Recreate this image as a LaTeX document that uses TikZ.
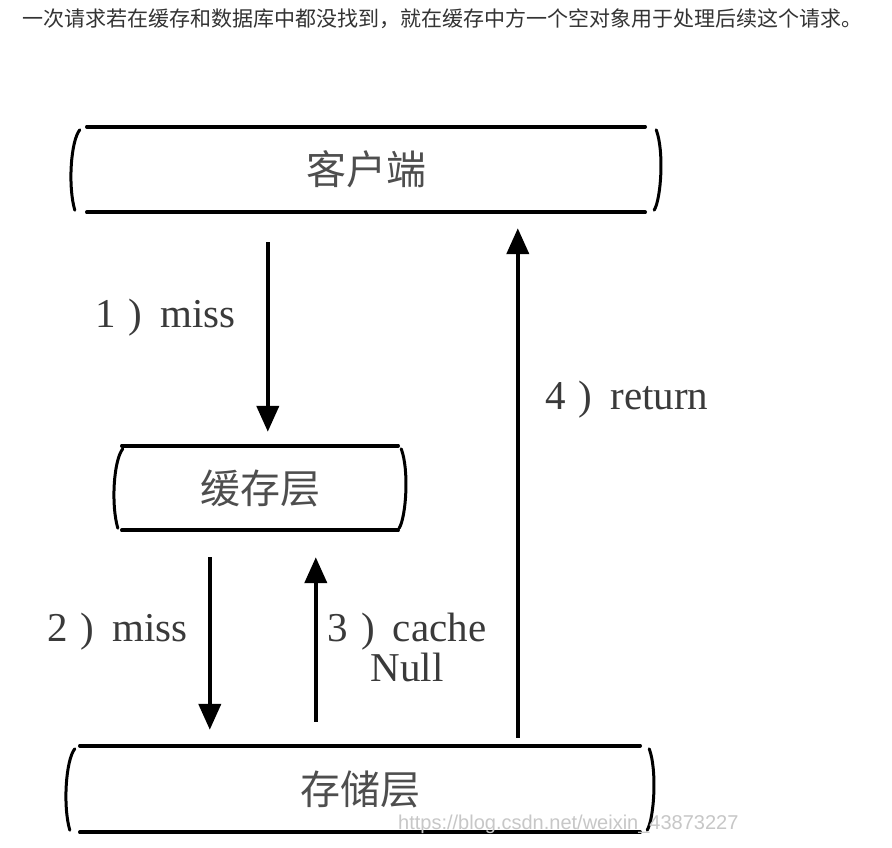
\documentclass[tikz,border=0pt]{standalone}
\usepackage{fontspec}
\setmainfont{Liberation Serif}
\newfontfamily\cjk{Noto Sans CJK SC}
\newfontfamily\wmfont{Liberation Sans}
\usepackage{xcolor}
\usetikzlibrary{arrows.meta,positioning,calc}
\definecolor{inkgray}{HTML}{3A3A3A}
\definecolor{softgray}{HTML}{4E4E4E}
\definecolor{captgray}{HTML}{333333}
% box with two rules and two bent side strokes
\newcommand{\layerbox}[2]{%
  \draw[rule] (#1.north west) -- (#1.north east);
  \draw[rule] (#1.south west) -- (#1.south east);
  \draw[side] ($(#1.north west)+(-#2+8,3)$) .. controls ($(#1.north west)+(-#2-1,14)$) and ($(#1.south west)+(-#2-4,-26)$) .. ($(#1.south west)+(-#2+3,-2)$);
  \draw[side] ($(#1.north east)+(#2-4,3)$) .. controls ($(#1.north east)+(#2+4,24)$) and ($(#1.south east)+(#2+1,-14)$) .. ($(#1.south east)+(#2-6,-2)$);
}
\tikzset{
  layer/.style={inner sep=0pt, font=\cjk\fontsize{40}{44}\selectfont, text=softgray},
  rule/.style={line width=3.6pt, line cap=round},
  side/.style={line width=3pt, line cap=round},
  flow/.style={line width=4.2pt, -{Triangle[length=26pt,width=22pt]}},
  steplbl/.style={inner sep=0pt, font=\fontsize{41}{40}\selectfont, text=inkgray},
}

\begin{document}
\begin{tikzpicture}[x=1pt, y=-1pt]
\fill[white] (0,0) rectangle (892,848);
\useasboundingbox (0,0) rectangle (892,848);
\node[anchor=west, inner sep=0pt, text=captgray, font=\cjk\fontsize{21}{24}\selectfont] (caption) at (22,19) {一次请求若在缓存和数据库中都没找到，就在缓存中方一个空对象用于处理后续这个请求。};

\node[layer, minimum width=558pt, minimum height=85pt] (client) at (366,169.5) {客户端};
\node[layer, minimum width=276pt, minimum height=84pt] (cache) at (260,488) {缓存层};
\node[layer, minimum width=560pt, minimum height=86pt] (store) at (360,789) {存储层};
\layerbox{client}{15}
\layerbox{cache}{7}
\layerbox{store}{13}

\draw[flow] ($(client.south west)+(181,30)$) -- ($(cache.north west)+(146,-14)$);
\draw[flow] ($(cache.south west)+(88,27)$) -- ($(store.north west)+(130,-16)$);
\draw[flow] ($(store.north west)+(236,-24)$) -- ($(cache.south west)+(194,27)$);
\draw[flow] ($(store.north west)+(438,-8)$) -- ($(client.south west)+(431,16)$);

\node[steplbl, anchor=east] (miss1) at (236,318) {1\hspace{13pt})\hspace{18pt}miss};
\node[steplbl, anchor=east] (miss2) at (188,632) {2\hspace{13pt})\hspace{18pt}miss};
\node[steplbl, align=center] (cachenull) at (407,647) {3\hspace{13pt})\hspace{18pt}cache\\Null};
\node[steplbl, anchor=west] (ret) at (545,400) {4\hspace{13pt})\hspace{18pt}return};

\node[anchor=west, inner sep=0pt, text=black!22, font=\wmfont\fontsize{20}{20}\selectfont] (mark) at (398,824) {https://blog.csdn.net/weixin\_43873227};
\end{tikzpicture}
\end{document}
